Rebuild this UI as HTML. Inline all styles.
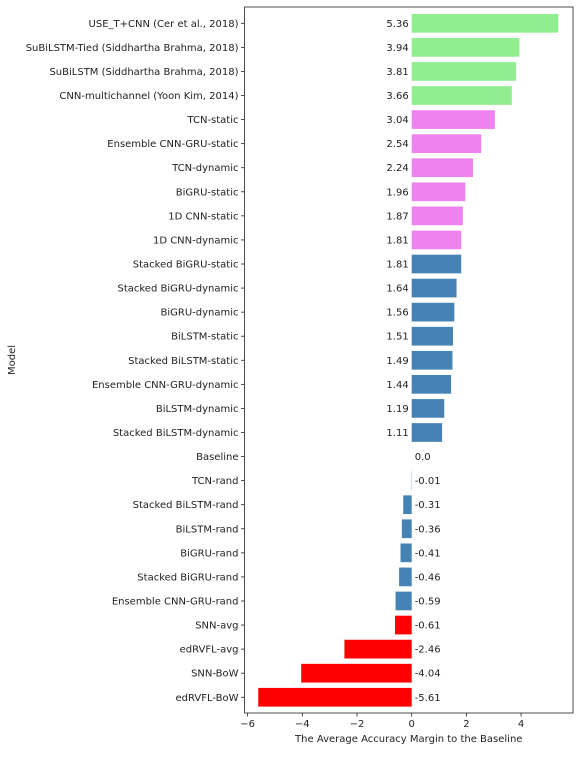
<!DOCTYPE html>
<html><head><meta charset="utf-8">
<style>
body{margin:0;background:#fff;}
svg text{font-family:"DejaVu Sans","Liberation Sans",sans-serif;font-size:10px;fill:#222;}
</style></head>
<body>
<svg id="chart" width="580" height="752" xmlns="http://www.w3.org/2000/svg">
<g id="plot"></g>
</svg>
<script>
const categories = ["USE_T+CNN (Cer et al., 2018)","SuBiLSTM-Tied (Siddhartha Brahma, 2018)","SuBiLSTM (Siddhartha Brahma, 2018)","CNN-multichannel (Yoon Kim, 2014)","TCN-static","Ensemble CNN-GRU-static","TCN-dynamic","BiGRU-static","1D CNN-static","1D CNN-dynamic","Stacked BiGRU-static","Stacked BiGRU-dynamic","BiGRU-dynamic","BiLSTM-static","Stacked BiLSTM-static","Ensemble CNN-GRU-dynamic","BiLSTM-dynamic","Stacked BiLSTM-dynamic","Baseline","TCN-rand","Stacked BiLSTM-rand","BiLSTM-rand","BiGRU-rand","Stacked BiGRU-rand","Ensemble CNN-GRU-rand","SNN-avg","edRVFL-avg","SNN-BoW","edRVFL-BoW"];
const values = [5.36,3.94,3.81,3.66,3.04,2.54,2.24,1.96,1.87,1.81,1.81,1.64,1.56,1.51,1.49,1.44,1.19,1.11,0.0,-0.01,-0.31,-0.36,-0.41,-0.46,-0.59,-0.61,-2.46,-4.04,-5.61];
const valueLabels = ["5.36","3.94","3.81","3.66","3.04","2.54","2.24","1.96","1.87","1.81","1.81","1.64","1.56","1.51","1.49","1.44","1.19","1.11","0.0","-0.01","-0.31","-0.36","-0.41","-0.46","-0.59","-0.61","-2.46","-4.04","-5.61"];
const groups = ["lit","lit","lit","lit","top","top","top","top","top","top","mid","mid","mid","mid","mid","mid","mid","mid","mid","mid","mid","mid","mid","mid","mid","low","low","low","low"];
const xTicks = [-6,-4,-2,0,2,4];
const colors = {lit:"#90ee90",top:"#ee82ee",mid:"#4682b4",low:"#ff0000"};

const L=244.5,R=573,T=7,B=713;
const x0=411.7, k=27.35;
const X=v=>x0+v*k;
const Y=i=>23.3+i*24.07;
const NS="http://www.w3.org/2000/svg";
const g=document.getElementById('plot');
function mk(t,a,txt){const e=document.createElementNS(NS,t);for(const q in a)e.setAttribute(q,a[q]);if(txt!==undefined)e.textContent=txt;g.appendChild(e);return e;}

categories.forEach((c,i)=>{
  const v=values[i], y=Y(i), h=18.7;
  const r=mk('rect',{x:Math.min(X(v),X(0)),y:y-h/2,width:Math.abs(X(v)-X(0)),height:h,fill:colors[groups[i]]});
  
  
  const pos=v>0;
  const t=mk('text',{x:pos?X(0)-3:X(0)+3,y:y+3.5,'text-anchor':pos?'end':'start'},valueLabels[i]);
  
  
  mk('line',{x1:L-3.5,x2:L,y1:y,y2:y,stroke:'#222','stroke-width':0.8});
  const cl=mk('text',{x:L-6,y:y+3.5,'text-anchor':'end'},c);
  
  
});
xTicks.forEach(v=>{
  mk('line',{x1:X(v),x2:X(v),y1:B,y2:B+3.5,stroke:'#222','stroke-width':0.8});
  const t=mk('text',{x:X(v),y:B+14,'text-anchor':'middle'},v<0?'\u2212'+Math.abs(v):String(v));
  
  
});
const f=mk('rect',{x:L,y:T,width:R-L,height:B-T,fill:'none',stroke:'#222','stroke-width':0.8});


const xt=mk('text',{x:(L+R)/2,y:742,'text-anchor':'middle'},'The Average Accuracy Margin to the Baseline');


const yt=mk('text',{x:0,y:0,'text-anchor':'middle',transform:'translate(15,360) rotate(-90)'},'Model');


</script>
</body></html>
